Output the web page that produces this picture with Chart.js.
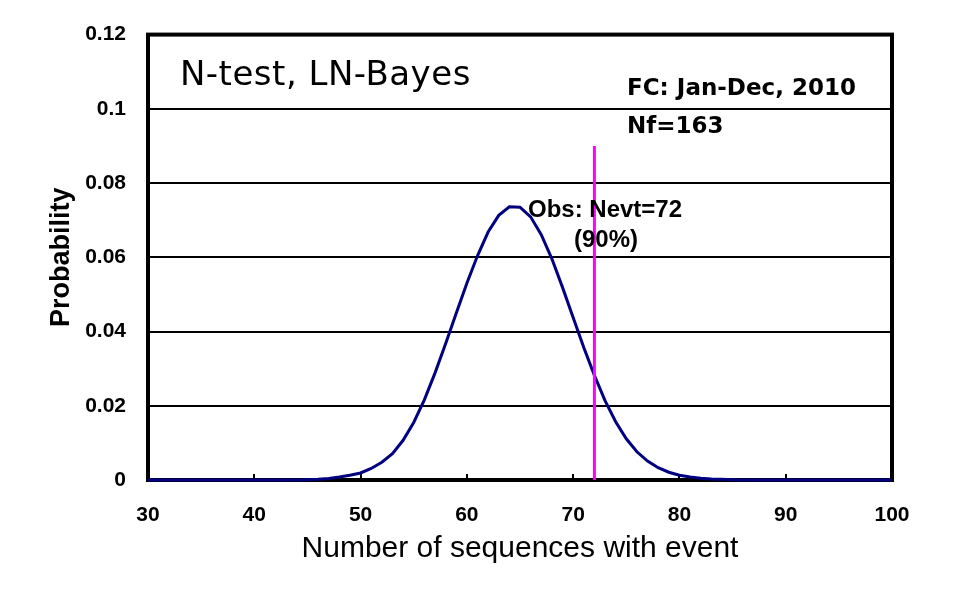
<!DOCTYPE html>
<html><head><meta charset="utf-8">
<script src="https://cdn.jsdelivr.net/npm/chart.js@4.4.1/dist/chart.umd.min.js"></script>
<style>html,body{margin:0;padding:0;background:#fff;}canvas{display:block;}</style>
</head><body>
<canvas id="c" width="970" height="603"></canvas>
<script>
// ---- data ----
const sequenceCounts = [30,31,32,33,34,35,36,37,38,39,40,41,42,43,44,45,46,47,48,49,
  50,51,52,53,54,55,56,57,58,59,60,61,62,63,64,65,66,67,68,69,
  70,71,72,73,74,75,76,77,78,79,80,81,82,83,84,85,86,87,88,89,
  90,91,92,93,94,95,96,97,98,99,100];
const probability = [0,0,0,0,0,0,0,0,0,0,0,0,0,0,0,
  0.0001,0.0002,0.0004,0.0008,0.0013,
  0.0019,0.0031,0.0048,0.0071,0.0107,0.0155,0.0216,0.0288,0.0367,0.0449,
  0.0530,0.0604,0.0668,0.0713,0.0736,0.0735,0.0709,0.0661,0.0596,0.0519,
  0.0438,0.0357,0.0282,0.0214,0.0157,0.0111,0.0076,0.0051,0.0033,0.0021,
  0.0013,0.0008,0.0005,0.0003,0.0002,0.0001,
  0,0,0,0,0,0,0,0,0,0,0,0,0,0,0];
const observedCount = [72, 72];
const observedLineY = [0, 0.09];
const xTickValues = [30,40,50,60,70,80,90,100];
const xTickLabels = ['30','40','50','60','70','80','90','100'];
const yTickValues = [0,0.02,0.04,0.06,0.08,0.1,0.12];
const yTickLabels = ['0','0.02','0.04','0.06','0.08','0.1','0.12'];
const chartTitle = 'N-test, LN-Bayes';
const fcLabel = 'FC: Jan-Dec, 2010';
const nfLabel = 'Nf=163';
const obsLabel = 'Obs: Nevt=72';
const obsPctLabel = '(90%)';

const curvePoints = sequenceCounts.map((n, i) => ({x: n, y: probability[i]}));
const obsPoints = observedCount.map((n, i) => ({x: n, y: observedLineY[i]}));

const decor = {
  id: 'decor',
  beforeDatasetsDraw(chart) {
    const {ctx, chartArea: a, scales: {x}} = chart;
    ctx.save();
    ctx.strokeStyle = '#000';
    ctx.lineWidth = 2;
    xTickValues.slice(1, -1).forEach(v => {
      const px = Math.round(x.getPixelForValue(v));
      ctx.beginPath(); ctx.moveTo(px, a.bottom); ctx.lineTo(px, a.bottom - 6); ctx.stroke();
    });
    ctx.lineWidth = 4;
    ctx.strokeRect(a.left, a.top, a.right - a.left, a.bottom - a.top);
    ctx.restore();
  },
  afterDatasetsDraw(chart) {
    const {ctx, scales: {x, y}} = chart;
    ctx.save();
    ctx.fillStyle = '#000';
    ctx.textBaseline = 'alphabetic';
    ctx.textAlign = 'left';
    ctx.font = '34px "DejaVu Sans"';
    if ('letterSpacing' in ctx) ctx.letterSpacing = '0.5px';
    ctx.fillText(chartTitle, x.getPixelForValue(33.0), y.getPixelForValue(0.1063));
    if ('letterSpacing' in ctx) ctx.letterSpacing = '0px';
    ctx.font = 'bold 23px "DejaVu Sans"';
    ctx.fillText(fcLabel, x.getPixelForValue(75.07), y.getPixelForValue(0.1036));
    ctx.fillText(nfLabel, x.getPixelForValue(75.07), y.getPixelForValue(0.0934));
    ctx.font = 'bold 24px "Liberation Sans"';
    ctx.fillText(obsLabel, x.getPixelForValue(65.75), y.getPixelForValue(0.0708));
    ctx.textAlign = 'center';
    ctx.fillText(obsPctLabel, x.getPixelForValue(73.09), y.getPixelForValue(0.0627));
    ctx.restore();
  }
};

new Chart(document.getElementById('c'), {
  type: 'line',
  data: {
    datasets: [
      {data: obsPoints, borderColor: '#ff00ff', borderWidth: 3, pointRadius: 0, tension: 0, clip: false},
      {data: curvePoints, borderColor: '#000080', borderWidth: 3, pointRadius: 0, tension: 0, clip: false}
    ]
  },
  options: {
    responsive: false,
    animation: false,
    devicePixelRatio: 1,
    layout: {padding: {left: 0, right: 78, top: 34, bottom: 0}},
    plugins: {legend: {display: false}, tooltip: {enabled: false}},
    scales: {
      x: {
        type: 'linear', min: 30, max: 100,
        afterFit(s) { s.height = 123; },
        afterBuildTicks(s) { s.ticks = xTickValues.map(v => ({value: v})); },
        grid: {display: false, drawTicks: false},
        border: {display: false},
        ticks: {
          autoSkip: false, maxRotation: 0, padding: 23, color: '#000',
          font: {family: 'Liberation Sans', size: 21, weight: 'bold', lineHeight: 1.2},
          callback: (v, i) => xTickLabels[i]
        },
        title: {
          display: true, text: 'Number of sequences with event', color: '#000',
          font: {family: 'Liberation Sans', size: 30, lineHeight: 1},
          padding: {top: 0, bottom: 39}
        }
      },
      y: {
        type: 'linear', min: 0, max: 0.12,
        afterFit(s) { s.width = 148; },
        afterBuildTicks(s) { s.ticks = yTickValues.map(v => ({value: v})); },
        grid: {color: '#000', lineWidth: 2, drawTicks: false},
        border: {display: false},
        ticks: {
          padding: 22, color: '#000',
          font: {family: 'Liberation Sans', size: 21, weight: 'bold', lineHeight: 1.2},
          callback: (v, i) => yTickLabels[i]
        },
        title: {
          display: true, text: 'Probability', color: '#000',
          font: {family: 'Liberation Sans', size: 27, weight: 'bold', lineHeight: 1},
          padding: {top: 48.5, bottom: 0}
        }
      }
    }
  },
  plugins: [decor]
});
</script>
</body></html>
